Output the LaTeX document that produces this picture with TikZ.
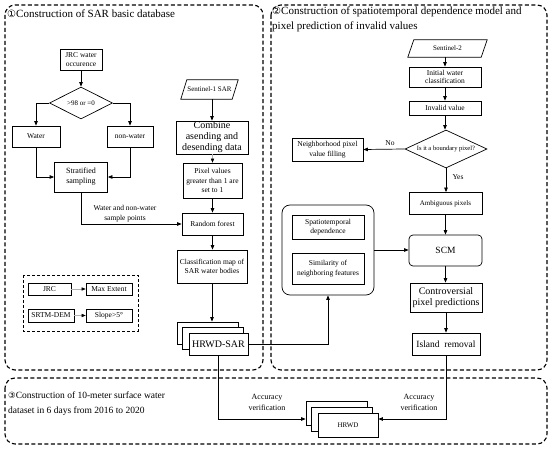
\documentclass[tikz,border=0pt]{standalone}
\usepackage{fontspec}
\setmainfont{Liberation Serif}
\newfontfamily\symfont{DejaVu Sans}
\usetikzlibrary{arrows.meta,shapes.geometric}
\tikzset{
  wh/.style 2 args={minimum width=#1pt,minimum height=#2pt},
  box/.style={draw,line width=0.7pt,inner sep=0.5pt,align=center,fill=white,font=\fontsize{7.5}{9.5}\selectfont},
  bigbox/.style={box,font=\fontsize{10}{11}\selectfont},
  dia/.style={draw,diamond,line width=0.7pt,inner sep=0pt,align=center,font=\fontsize{7}{8}\selectfont},
  para/.style={inner sep=0pt,align=center,font=\fontsize{7.5}{9}\selectfont},
  arr/.style={line width=0.7pt,-{Triangle[length=4.5pt,width=3.5pt]}},
  garr/.style={line width=0.6pt,draw=gray!60,-{Triangle[length=4pt,width=3.2pt,fill=black,color=black]}},
  panel/.style={dashed,line width=1.1pt,dash pattern=on 4pt off 2.5pt,rounded corners=10pt},
  lbl/.style={align=center,inner sep=0pt,font=\fontsize{7.5}{9.5}\selectfont},
  ttl/.style={align=left,inner sep=0pt,font=\fontsize{11}{15}\selectfont},
}
\begin{document}
\begin{tikzpicture}[x=1pt,y=-1pt]
\useasboundingbox (0,0) rectangle (550,449);
% panels
\draw[panel] (5,5) rectangle (263,370);
\draw[panel] (271,5) rectangle (547,370);
\draw[panel] (5,378) rectangle (547,444);
\node[ttl,anchor=west] (t1) at (7,14) {{\symfont\fontsize{10}{12}\selectfont ①}Construction of SAR basic database};
\node[ttl,anchor=north west] (t2) at (272,7) {{\symfont\fontsize{10}{12}\selectfont ②}Construction of spatiotemporal dependence model and\\pixel prediction of invalid values};
\node[ttl,anchor=north west,font=\fontsize{9.5}{15}\selectfont] (t3) at (8,392) {{\symfont\fontsize{8.5}{12}\selectfont ③}Construction of 10-meter surface water\\dataset in 6 days from 2016 to 2020};

% ---- panel 1 ----
\node[box,wh={42}{21}] (jrcw) at (81,59.5) {JRC water\\occurence};
\node[dia,aspect=2,minimum width=63pt,minimum height=32pt] (d1) at (81,103) {\textgreater98 or =0};
\node[box,wh={48}{21}] (water) at (36,136.5) {Water};
\node[box,wh={46}{21}] (nonw) at (130,136.5) {non-water};
\node[box,wh={53}{30},font=\fontsize{8}{10}\selectfont] (strat) at (81,177) {Stratified\\sampling};
\draw[arr] (jrcw.south) -- (d1.north);
\draw[arr] (d1.west) -| (water.north);
\draw[arr] (d1.east) -| (nonw.north);
\draw[arr] (water.south) |- (strat.west);
\draw[arr] (nonw.south) |- (strat.east);

\node[para,wh={57}{19},font=\fontsize{7}{9}\selectfont] (s1) at (209.5,89.5) {Sentinel-1 SAR};
\draw[line width=0.7pt] (s1.south west) -- ([xshift=6pt]s1.north west) -- (s1.north east) -- ([xshift=-6pt]s1.south east) -- cycle;
\node[bigbox,wh={72}{33}] (comb) at (212,137.5) {Combine\\asending and\\desending data};
\node[box,wh={59}{35},font=\fontsize{7.5}{9.7}\selectfont] (pix) at (212.5,180.5) {Pixel values\\greater than 1 are\\set to 1};
\node[box,wh={61}{22}] (rf) at (212.5,224) {Random forest};
\node[box,wh={70}{33}] (cls) at (212,266.5) {Classification map of\\SAR water bodies};
\node[box,wh={61}{22}] (hrs1) at (207.5,333) {};
\node[box,wh={61}{22}] (hrs2) at (213,338.5) {};
\node[bigbox,wh={59}{22}] (hrs3) at (218.5,344) {HRWD-SAR};
\draw[arr] (comb.north |- s1.south) -- (comb.north);
\draw[garr] (pix.north |- comb.south) -- (pix.north);
\draw[arr] (pix.south) -- (rf.north);
\draw[arr] (rf.south) -- (rf.south |- cls.north);
\draw[arr] (cls.south) -- (cls.south |- hrs1.north);
\draw[arr] (strat.south) |- (rf.west);
\node[lbl] (wlab) at (125,213.5) {Water and non-water\\sample points};

% legend
\draw[dashed,line width=0.7pt,dash pattern=on 3pt off 2pt] (23,275) rectangle (138,331);
\node[box,wh={43}{12}] (jrc) at (49.5,289) {JRC};
\node[box,wh={46}{12}] (maxe) at (109,289) {Max Extent};
\node[box,wh={46}{13}] (srtm) at (51,315.5) {SRTM-DEM};
\node[box,wh={46}{13}] (slope) at (109,315.5) {Slope\textgreater5°};
\draw[garr] (jrc) -- (maxe);
\draw[garr] (srtm) -- (slope);

% ---- panel 2 ----
\node[para,wh={79}{17},font=\fontsize{7}{8}\selectfont] (s2) at (447.5,48.5) {Sentinel-2};
\draw[line width=0.7pt] (s2.south west) -- ([xshift=6pt]s2.north west) -- (s2.north east) -- ([xshift=-6pt]s2.south east) -- cycle;
\node[box,wh={72}{20},font=\fontsize{7.5}{8.5}\selectfont] (iwc) at (445,77) {Initial water\\classification};
\node[box,wh={72}{14}] (inv) at (445,108) {Invalid value};
\node[dia,aspect=2.2,minimum width=82pt,minimum height=38pt,font=\fontsize{6.5}{8}\selectfont] (d2) at (446,149) {Is it a boundary pixel?};
\node[box,wh={71}{23}] (nb) at (327.5,149.5) {Neighborhood pixel\\value filling};
\node[box,wh={73}{22},font=\fontsize{7}{9}\selectfont] (amb) at (445.5,203.5) {Ambiguous pixels};
\node[box,wh={73}{31},rounded corners=4pt,font=\fontsize{9.5}{11}\selectfont] (scm) at (445.5,250.5) {SCM};
\node[bigbox,wh={72}{29}] (con) at (446,297.5) {Controversial\\pixel predictions};
\node[bigbox,wh={68}{22},font=\fontsize{9.5}{11}\selectfont] (isl) at (446,344) {Island\ \ removal};
\draw[arr] (iwc.north |- s2.south) -- (iwc.north);
\draw[arr] (iwc.south) -- (inv.north);
\draw[arr] (inv.south) -- (inv.south |- d2.north);
\draw[arr] (d2.west) -- (nb.east);
\draw[arr] (d2.south) -- (d2.south |- amb.north);
\draw[arr] (amb.south) -- (scm.north);
\draw[arr] (scm.south) -- (scm.south |- con.north);
\draw[arr] (con.south) -- (isl.south |- isl.north);
\node[lbl] (no) at (390,143.5) {No};
\node[lbl] (yes) at (458,177.5) {Yes};

\node[draw,line width=0.7pt,rounded corners=8pt,wh={92}{90}] (grp) at (328,250) {};
\node[box,wh={72}{24}] (spd) at (328,227) {Spatiotemporal\\dependence};
\node[box,wh={72}{31}] (sim) at (328,268.5) {Similarity of\\neighboring features};
\draw[arr] (grp.east) -- (scm.west |- grp.east);
\draw[arr] (hrs3.east) -| (grp.south);

% ---- panel 3 ----
\node[box,wh={61}{24}] (hr1) at (336.5,413) {};
\node[box,wh={61}{24}] (hr2) at (342,419) {};
\node[box,wh={60}{24},font=\fontsize{7}{8}\selectfont] (hr3) at (348,425) {HRWD};
\draw[arr] (hrs3.south) |- ([yshift=-6pt]hr1.west);
\draw[arr] (isl.south) |- ([yshift=6pt]hr3.east);
\node[lbl,font=\fontsize{8}{11}\selectfont] (av1) at (267,402) {Accuracy\\verification};
\node[lbl,font=\fontsize{8}{11}\selectfont] (av2) at (419,402) {Accuracy\\verification};
\end{tikzpicture}
\end{document}
